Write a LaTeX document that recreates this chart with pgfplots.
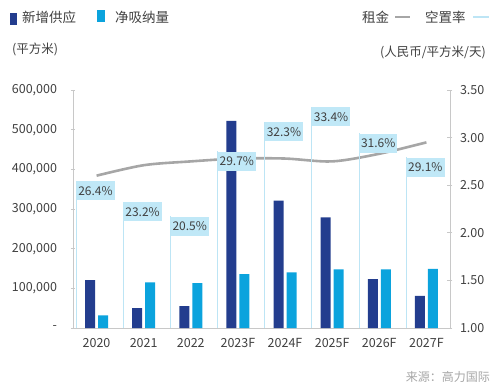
\documentclass[border=0pt]{standalone}
\usepackage{pgfplots}
\pgfplotsset{compat=1.18}
\usepackage{fontspec}
\setmainfont{Noto Sans CJK SC}
\definecolor{dblue}{HTML}{233D8E}
\definecolor{lblue}{HTML}{0BA3DD}
\definecolor{vfill}{HTML}{C0E8F7}
\definecolor{vline}{HTML}{BDE5F5}
\definecolor{rent}{HTML}{A6A6A6}
\definecolor{txt}{HTML}{404040}
\definecolor{axc}{HTML}{C8C8C8}
\definecolor{src}{HTML}{A6A6A6}

\pgfplotstableread{
x supply absorb
0 121000 32000
1 50000 115000
2 55000 113000
3 522000 136000
4 321000 140000
5 279000 148000
6 123000 148000
7 81000 149000
}\bars

\pgfplotstableread{
x rent
0 2.60
1 2.71
2 2.75
3 2.78
4 2.78
5 2.75
6 2.83
7 2.95
}\rentdata

\pgfplotstableread{
x pos vac
-0.43 2.547 26.4
0.57 2.327 23.2
1.57 2.176 20.5
2.57 2.859 29.7
3.57 3.167 32.3
4.57 3.325 33.4
5.57 3.045 31.6
6.57 2.793 29.1
}\vacdata

\begin{document}
\begin{tikzpicture}
\path[use as bounding box] (0,0) rectangle (500bp,390bp);
\begin{axis}[
  at={(73bp,62bp)}, anchor=south west, scale only axis,
  width=377bp, height=238bp,
  xmin=-0.5, xmax=7.5, ymin=0, ymax=600000,
  axis x line*=bottom, axis y line*=left,
  axis line style={draw=axc, line width=0.8bp},
  xtick={0,...,7},
  xticklabels={2020,2021,2022,2023F,2024F,2025F,2026F,2027F},
  xtick style={draw=none},
  scaled y ticks=false,
  ytick={0,100000,...,600000},
  yticklabels={-,{100,000},{200,000},{300,000},{400,000},{500,000},{600,000}},
  ytick style={draw=axc, line width=0.8bp},
  major tick length=5bp, tick align=center,
  tick label style={font=\fontsize{12.5bp}{14bp}\selectfont, text=txt},
  yticklabel style={xshift=-10bp},
  xticklabel style={yshift=-4bp},
  /pgf/number format/assume math mode=true,
  clip=false,
]
\addplot[ybar, bar width=10bp, bar shift=-6.5bp, fill=dblue, draw=none] table[x=x,y=supply] {\bars};
\addplot[ybar, bar width=10bp, bar shift=6.5bp, fill=lblue, draw=none] table[x=x,y=absorb] {\bars};
\end{axis}
\begin{axis}[
  at={(73bp,62bp)}, anchor=south west, scale only axis,
  width=377bp, height=238bp,
  xmin=-0.5, xmax=7.5, ymin=1, ymax=3.5,
  axis x line=none, axis y line*=right,
  axis line style={draw=axc, line width=0.8bp},
  ytick={1,1.5,...,3.5},
  yticklabel={\pgfmathprintnumber[fixed,fixed zerofill,precision=2]{\tick}},
  ytick style={draw=axc, line width=0.8bp},
  major tick length=5bp, tick align=center,
  tick label style={font=\fontsize{12.5bp}{14bp}\selectfont, text=txt},
  yticklabel style={xshift=4bp},
  /pgf/number format/assume math mode=true,
]
\addplot[rent, line width=2.6bp, smooth, no marks] table[x=x,y=rent] {\rentdata};
\addplot[ycomb, vline, line width=1bp, no marks,
  point meta=explicit symbolic,
  nodes near coords={\pgfplotspointmeta\%},
  every node near coord/.append style={anchor=north west, fill=vfill, text=txt,
     font=\fontsize{12bp}{14bp}\selectfont, inner xsep=2bp, inner ysep=2.5bp,
     minimum height=19bp, xshift=-0.5bp}
] table[x=x,y=pos,meta=vac] {\vacdata};
\end{axis}
% legend
\fill[dblue] (10bp,365bp) rectangle (16.5bp,377bp);
\node[anchor=west, text=txt, font=\fontsize{13.5bp}{15bp}\selectfont, inner sep=0] at (22bp,373bp) {新增供应};
\fill[lblue] (97bp,368bp) rectangle (105bp,380bp);
\node[anchor=west, text=txt, font=\fontsize{13.5bp}{15bp}\selectfont, inner sep=0] at (115bp,373bp) {净吸纳量};
\node[anchor=west, text=txt, font=\fontsize{12.5bp}{14bp}\selectfont, inner sep=0] at (12bp,341bp) {(平方米)};
\node[anchor=west, text=txt, font=\fontsize{13.5bp}{15bp}\selectfont, inner sep=0] at (362bp,373bp) {租金};
\draw[rent, line width=2.6bp] (395bp,373bp) -- (410bp,373bp);
\node[anchor=west, text=txt, font=\fontsize{13.5bp}{15bp}\selectfont, inner sep=0] at (425bp,373bp) {空置率};
\draw[vline, line width=2.6bp] (473bp,373bp) -- (489bp,373bp);
\node[anchor=east, text=txt, font=\fontsize{12.5bp}{14bp}\selectfont, inner sep=0] at (486bp,338bp) {(人民币/平方米/天)};
\node[anchor=east, text=src, font=\fontsize{12bp}{14bp}\selectfont, inner sep=0] at (490bp,13bp) {来源：高力国际};
\end{tikzpicture}
\end{document}
